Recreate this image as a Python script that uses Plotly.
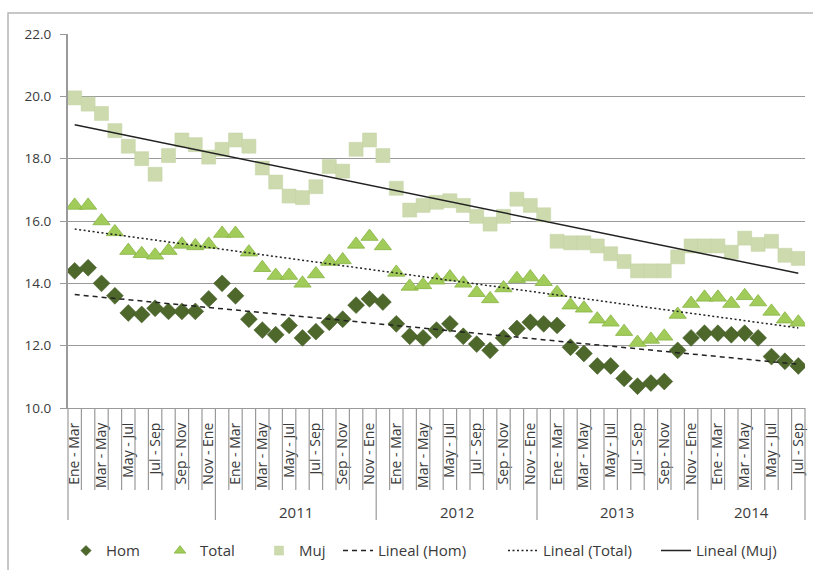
import numpy as np
import plotly.graph_objects as go

# ---------------- data ----------------
period_cycle = ["Ene - Mar", "Feb - Abr", "Mar - May", "Abr - Jun", "May - Jul", "Jun - Ago",
                "Jul - Sep", "Ago - Oct", "Sep - Nov", "Oct - Dic", "Nov - Ene", "Dic - Feb"]
group_years = ["", "2011", "2012", "2013", "2014"]
group_sizes = [11, 12, 12, 12, 8]
group_first_period = [0, 11, 11, 11, 11]

hom = [14.4, 14.5, 14.0, 13.6, 13.05, 13.0, 13.2, 13.1, 13.1, 13.1, 13.5,
       14.0, 13.6, 12.85, 12.5, 12.35, 12.65, 12.25, 12.45, 12.75, 12.85, 13.3, 13.5,
       13.4, 12.7, 12.3, 12.25, 12.5, 12.7, 12.3, 12.05, 11.85, 12.25, 12.55, 12.75,
       12.7, 12.65, 11.95, 11.75, 11.35, 11.35, 10.95, 10.7, 10.8, 10.85, 11.85, 12.25,
       12.4, 12.4, 12.35, 12.4, 12.25, 11.65, 11.5, 11.35]

total = [16.5, 16.5, 16.0, 15.65, 15.05, 14.95, 14.9, 15.05, 15.25, 15.2, 15.25,
         15.6, 15.6, 15.0, 14.5, 14.25, 14.25, 14.0, 14.3, 14.7, 14.75, 15.25, 15.5,
         15.2, 14.35, 13.9, 13.95, 14.1, 14.2, 14.0, 13.7, 13.5, 13.85, 14.15, 14.2,
         14.05, 13.7, 13.3, 13.2, 12.85, 12.75, 12.45, 12.1, 12.2, 12.3, 13.0, 13.35,
         13.55, 13.55, 13.35, 13.6, 13.4, 13.1, 12.85, 12.75]

muj = [19.95, 19.75, 19.45, 18.9, 18.4, 18.0, 17.5, 18.1, 18.6, 18.45, 18.05,
       18.3, 18.6, 18.4, 17.7, 17.25, 16.8, 16.75, 17.1, 17.75, 17.6, 18.3, 18.6,
       18.1, 17.05, 16.35, 16.5, 16.6, 16.65, 16.5, 16.15, 15.9, 16.15, 16.7, 16.5,
       16.2, 15.35, 15.3, 15.3, 15.2, 14.95, 14.7, 14.4, 14.4, 14.4, 14.85, 15.2,
       15.2, 15.2, 15.0, 15.45, 15.25, 15.35, 14.9, 14.8]

# ---------------- build ----------------
periods = []
for start, n in zip(group_first_period, group_sizes):
    periods += [period_cycle[(start + k) % 12] for k in range(n)]
n_pts = len(periods)
x = np.arange(n_pts)

FONT = "Open Sans"
GRID = "#9a9a9a"
TXT = "#3a3a3a"
PLOT_L, PLOT_W = 68, 737          # plot area left / width in px (matches margins)

series_style = [
    ("Hom", hom, dict(symbol="diamond", size=13, color="#4E682C", line=dict(color="#3f5622", width=0.5)), 8),
    ("Total", total, dict(symbol="triangle-up", size=15, color="#A2CC5A", line=dict(color="#86B443", width=0.8)), 10),
    ("Muj", muj, dict(symbol="square", size=14, color="#CDDAAE", line=dict(color="#C3D2A2", width=0.5)), 9),
]
# left pixel of each legend entry
legend_left_px = [66, 160, 259, 338, 503, 656]
legend_ids = ["legend", "legend2", "legend3", "legend4", "legend5", "legend6"]

fig = go.Figure()

# legend entries (small symbols as in the reference legend)
for j, (nm, _, mk, lsize) in enumerate(series_style):
    m = dict(mk)
    m["size"] = lsize
    fig.add_trace(go.Scatter(x=[None], y=[None], mode="markers", name=nm, marker=m,
                             showlegend=True, hoverinfo="skip", legend=legend_ids[j]))

for nm, vals, mk, _ in series_style:
    fig.add_trace(go.Scatter(x=x, y=vals, mode="markers", name=nm, marker=mk, showlegend=False))

for j, (series, nm, dash) in enumerate([(hom, "Lineal (Hom)", "5px,4px"),
                                        (total, "Lineal (Total)", "2px,2.5px"),
                                        (muj, "Lineal (Muj)", "solid")]):
    k, b = np.polyfit(x, series, 1)
    fig.add_trace(go.Scatter(x=x, y=k * x + b, mode="lines", name=nm,
                             line=dict(color="#222222", width=1.5, dash=dash),
                             legend=legend_ids[3 + j]))

# category separators (paper coords computed from category index)
shapes = []
bounds = np.cumsum([0] + group_sizes)
for bnd in range(n_pts + 1):
    px = bnd / n_pts
    y_end = -0.2995 if bnd in bounds else -0.219
    shapes.append(dict(type="line", xref="paper", yref="paper", x0=px, x1=px,
                       y0=0, y1=y_end, line=dict(color=GRID, width=1.2)))
# outer chart border
shapes.append(dict(type="rect", xref="paper", yref="paper", x0=-0.0814, x1=1.05,
                   y0=-0.6, y1=1.056, line=dict(color="#b5b5b5", width=1.5),
                   fillcolor="rgba(0,0,0,0)", layer="below"))

annotations = []
for i, yr in enumerate(group_years):
    if yr:
        cx = float((bounds[i] + bounds[i + 1]) / 2 / n_pts)
        annotations.append(dict(x=cx, y=-0.278, xref="paper", yref="paper", text=yr,
                                xanchor="center", yanchor="middle", showarrow=False,
                                font=dict(family=FONT, size=15, color=TXT)))

tickvals = [i for i in range(n_pts) if i % 2 == 0]
ticktext = [periods[i] for i in tickvals]

legend_layouts = {}
for lid, lpx in zip(legend_ids, legend_left_px):
    legend_layouts[lid] = dict(orientation="h", x=(lpx - PLOT_L) / PLOT_W, xanchor="left",
                               y=-0.382, yanchor="middle",
                               font=dict(family=FONT, size=15, color=TXT),
                               bgcolor="rgba(0,0,0,0)", itemwidth=30)

fig.update_layout(
    width=813, height=570,
    margin=dict(l=68, r=8, t=34, b=162, autoexpand=False),
    paper_bgcolor="white", plot_bgcolor="white",
    font=dict(family=FONT, size=13, color=TXT),
    shapes=shapes, annotations=annotations,
    showlegend=True,
    xaxis=dict(range=[-0.5, n_pts - 0.5], tickmode="array", tickvals=tickvals,
               ticktext=ticktext, tickangle=-90, ticks="", showgrid=False, zeroline=False,
               showline=True, linecolor=GRID, linewidth=1.2, ticklabelstandoff=8,
               tickfont=dict(family=FONT, size=14, color=TXT)),
    yaxis=dict(range=[10, 22], dtick=2, tick0=10, tickformat=".1f", showgrid=True,
               gridcolor=GRID, gridwidth=1.2, zeroline=False, showline=True,
               linecolor=GRID, linewidth=2, ticks="outside", ticklen=6, tickcolor=GRID,
               ticklabelstandoff=6,
               tickfont=dict(family=FONT, size=13.5, color=TXT)),
    **legend_layouts,
)

fig.write_html("out.html", config={"displayModeBar": False},
               post_script="document.body.style.margin='0';")
